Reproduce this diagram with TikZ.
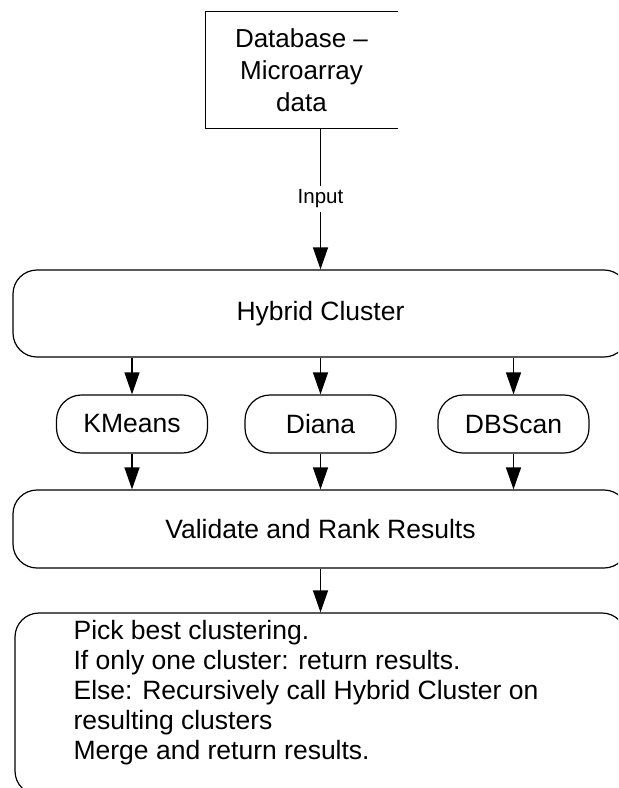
\documentclass[tikz,border=0pt]{standalone}
\usepackage{fontspec}
\setmainfont{Liberation Sans}
\usetikzlibrary{arrows.meta,calc}

\begin{document}
\begin{tikzpicture}
  [
    x=0.5pt, y=-0.5pt, line width=0.6pt,
    txt/.style =
      {font=\fontsize{13.25}{15}\selectfont},
    dbbox/.style =
      {rectangle, align=center, minimum width=95.5pt, minimum height=58pt,
       font=\fontsize{13}{16}\selectfont},
    wide/.style =
      {draw, rectangle, rounded corners=12pt, minimum width=307.5pt, txt},
    algo/.style =
      {draw, rectangle, rounded corners=12.5pt, minimum width=75.5pt,
       minimum height=29pt, txt},
    tarrow/.style =
      {-{Triangle[length=11pt, width=7.5pt]}},
    lbl/.style =
      {fill=white, inner sep=2pt, font=\fontsize{10.25}{12}\selectfont}
  ]

\useasboundingbox (0,0) rectangle (618,788);
\clip (0,0) rectangle (618,788);

% source of the data, box left open on its right
\node[dbbox] (db) at (301.5,70) {Database --\\Microarray\\data};
\draw (db.north east) -- (db.north west) -- (db.south west) -- (db.south east);

\node[wide, minimum height=43.5pt] (hc) at (320.5,313.5) {Hybrid Cluster};

% the three clustering methods
\node[algo] (km)  at (132,424)   {KMeans};
\node[algo] (di)  at (320.5,424) {Diana};
\node[algo] (dbs) at (513.5,424) {DBScan};

\node[wide, minimum height=39pt] (vr) at (320.5,529) {Validate and Rank Results};

\node[wide, minimum width=305.5pt, minimum height=91pt] (res) at (320.5,704) {};
\node[txt, anchor=west, align=left, inner sep=0pt] (steps) at (73,692.5)
  {Pick best clustering.\\
   If only one cluster: return results.\\
   Else: Recursively call Hybrid Cluster on\\
   resulting clusters\\
   Merge and return results.};

\draw [tarrow] (db.south -| hc) -- node[lbl] (inp) {Input} (hc.north);

\draw [tarrow] (hc.south -| km)  -- (km.north);
\draw [tarrow] (hc.south -| di)  -- (di.north);
\draw [tarrow] (hc.south -| dbs) -- (dbs.north);

\draw [tarrow] (km.south)  -- (km.south |- vr.north);
\draw [tarrow] (di.south)  -- (di.south |- vr.north);
\draw [tarrow] (dbs.south) -- (dbs.south |- vr.north);

\draw [tarrow] (vr.south) -- (res.north);

\end{tikzpicture}
\end{document}
